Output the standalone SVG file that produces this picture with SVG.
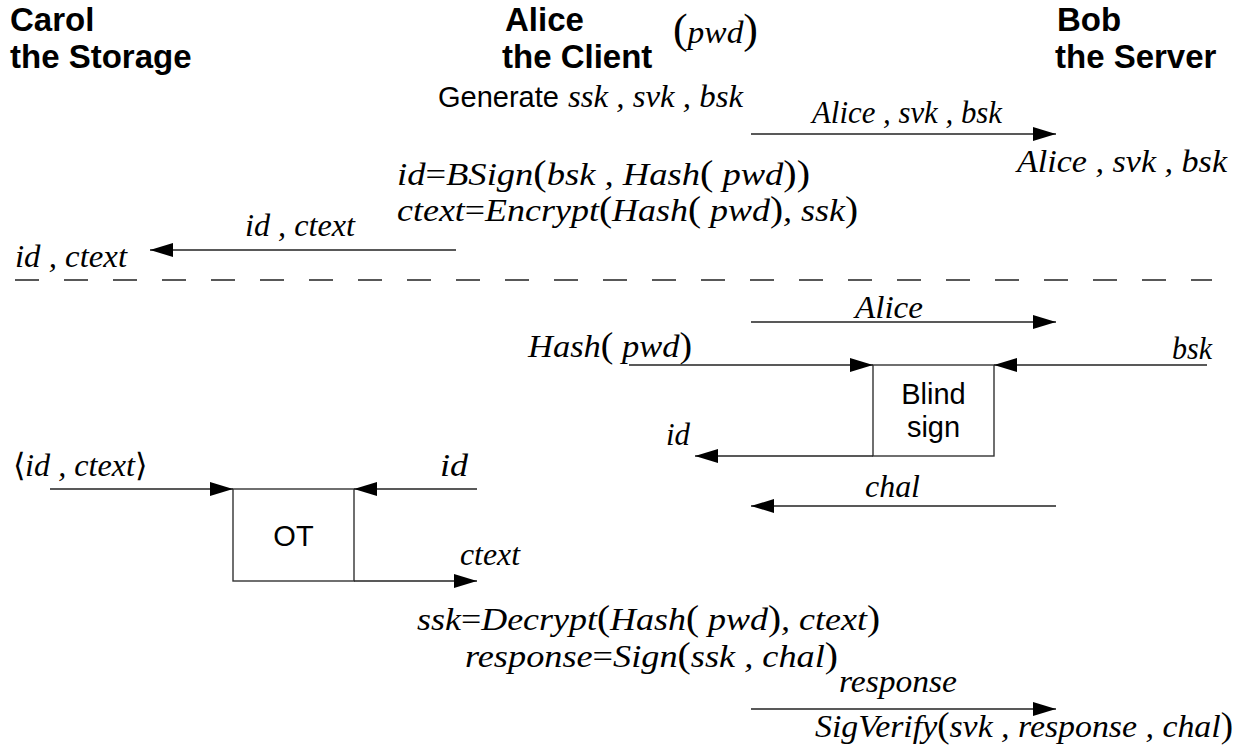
<svg xmlns="http://www.w3.org/2000/svg" width="1244" height="753" viewBox="0 0 1244 753">
<defs>
<style>
.t{font-family:"Liberation Sans",Arial,sans-serif;font-weight:bold;font-size:33px;fill:#000}
.s{font-family:"Liberation Sans",Arial,sans-serif;font-size:29px;fill:#000}
.m{font-family:"Liberation Serif","Times New Roman",serif;font-style:italic;font-size:32px;fill:#000}
.p{font-style:normal;font-size:35px}
.u{font-style:normal}
.ln{stroke:#222;stroke-width:1.4;fill:none}
.bx{stroke:#333;stroke-width:1.4;fill:#fff}
</style>
<marker id="ah" markerUnits="userSpaceOnUse" markerWidth="24" markerHeight="16" refX="23" refY="7" orient="auto">
<path d="M0,0 L23,7 L0,14 Z" fill="#000"/>
</marker>
</defs>
<rect width="1244" height="753" fill="#fff"/>

<g id="carol">
<text class="t" x="10" y="31">Carol</text>
<text class="t" x="10" y="68">the Storage</text>
</g>
<g id="alice">
<text class="t" x="505" y="31">Alice</text>
<text class="t" x="502" y="68">the Client</text>
<text class="m" x="673" y="43" textLength="85" lengthAdjust="spacingAndGlyphs"><tspan class="u" font-size="42">(</tspan>pwd<tspan class="u" font-size="42">)</tspan></text>
</g>
<g id="bob">
<text class="t" x="1057" y="31">Bob</text>
<text class="t" x="1055" y="68">the Server</text>
</g>

<g id="texts">
<text class="s" x="438" y="107">Generate</text>
<text class="m" x="568" y="107" textLength="175" lengthAdjust="spacingAndGlyphs">ssk , svk , bsk</text>
<text class="m" x="812" y="123" textLength="190" lengthAdjust="spacingAndGlyphs">Alice , svk , bsk</text>
<text class="m" x="1017" y="172" textLength="210" lengthAdjust="spacingAndGlyphs">Alice , svk , bsk</text>
<text class="m" x="397" y="185" textLength="413" lengthAdjust="spacingAndGlyphs">id<tspan class="u">=</tspan>BSign<tspan class="p">(</tspan>bsk , Hash<tspan class="p">(</tspan> pwd<tspan class="p">))</tspan></text>
<text class="m" x="397" y="221" textLength="461" lengthAdjust="spacingAndGlyphs">ctext<tspan class="u">=</tspan>Encrypt<tspan class="p">(</tspan>Hash<tspan class="p">(</tspan> pwd<tspan class="p">)</tspan>, ssk<tspan class="p">)</tspan></text>
<text class="m" x="245" y="236" textLength="110" lengthAdjust="spacingAndGlyphs">id , ctext</text>
<text class="m" x="15" y="267" textLength="112" lengthAdjust="spacingAndGlyphs">id , ctext</text>
<text class="m" x="855" y="318" textLength="68" lengthAdjust="spacingAndGlyphs">Alice</text>
<text class="m" x="528" y="357" textLength="164" lengthAdjust="spacingAndGlyphs">Hash<tspan class="p">(</tspan> pwd<tspan class="p">)</tspan></text>
<text class="m" x="1172" y="359" textLength="40" lengthAdjust="spacingAndGlyphs">bsk</text>
<text class="m" x="666" y="445" textLength="24" lengthAdjust="spacingAndGlyphs">id</text>
<text class="m" x="865" y="497" textLength="55" lengthAdjust="spacingAndGlyphs">chal</text>
<text class="m" x="13" y="476" textLength="134" lengthAdjust="spacingAndGlyphs"><tspan class="u">⟨</tspan>id , ctext<tspan class="u">⟩</tspan></text>
<text class="m" x="440" y="476" textLength="28" lengthAdjust="spacingAndGlyphs">id</text>
<text class="m" x="460" y="565" textLength="60" lengthAdjust="spacingAndGlyphs">ctext</text>
<text class="m" x="417" y="630" textLength="463" lengthAdjust="spacingAndGlyphs">ssk<tspan class="u">=</tspan>Decrypt<tspan class="p">(</tspan>Hash<tspan class="p">(</tspan> pwd<tspan class="p">)</tspan>, ctext<tspan class="p">)</tspan></text>
<text class="m" x="465" y="667" textLength="373" lengthAdjust="spacingAndGlyphs">response<tspan class="u">=</tspan>Sign<tspan class="p">(</tspan>ssk , chal<tspan class="p">)</tspan></text>
<text class="m" x="839" y="692" textLength="118" lengthAdjust="spacingAndGlyphs">response</text>
<text class="m" x="815" y="737" textLength="418" lengthAdjust="spacingAndGlyphs">SigVerify<tspan class="p">(</tspan>svk , response , chal<tspan class="p">)</tspan></text>
</g>

<g id="blind-sign">
<rect class="bx" x="873" y="365" width="121" height="91"/>
<text class="s" x="933.5" y="404" text-anchor="middle">Blind</text>
<text class="s" x="933.5" y="437" text-anchor="middle">sign</text>
</g>
<g id="ot">
<rect class="bx" x="233" y="489" width="121" height="92"/>
<text class="s" x="293.5" y="546" text-anchor="middle" font-size="27">OT</text>
</g>

<g id="connectors">
<line class="ln" x1="751" y1="134" x2="1056" y2="134" marker-end="url(#ah)"/>
<line class="ln" x1="456" y1="250" x2="150" y2="250" marker-end="url(#ah)"/>
<line class="ln" x1="15" y1="280" x2="1212" y2="280" stroke-dasharray="24 25"/>
<line class="ln" x1="751" y1="322" x2="1056" y2="322" marker-end="url(#ah)"/>
<line class="ln" x1="629" y1="365" x2="873" y2="365" marker-end="url(#ah)"/>
<line class="ln" x1="1207" y1="365" x2="994" y2="365" marker-end="url(#ah)"/>
<line class="ln" x1="873" y1="456" x2="695" y2="456" marker-end="url(#ah)"/>
<line class="ln" x1="1056" y1="506" x2="751" y2="506" marker-end="url(#ah)"/>
<line class="ln" x1="50" y1="489" x2="233" y2="489" marker-end="url(#ah)"/>
<line class="ln" x1="477" y1="489" x2="354" y2="489" marker-end="url(#ah)"/>
<line class="ln" x1="354" y1="581" x2="477" y2="581" marker-end="url(#ah)"/>
<line class="ln" x1="751" y1="709" x2="1056" y2="709" marker-end="url(#ah)"/>
</g>
</svg>
